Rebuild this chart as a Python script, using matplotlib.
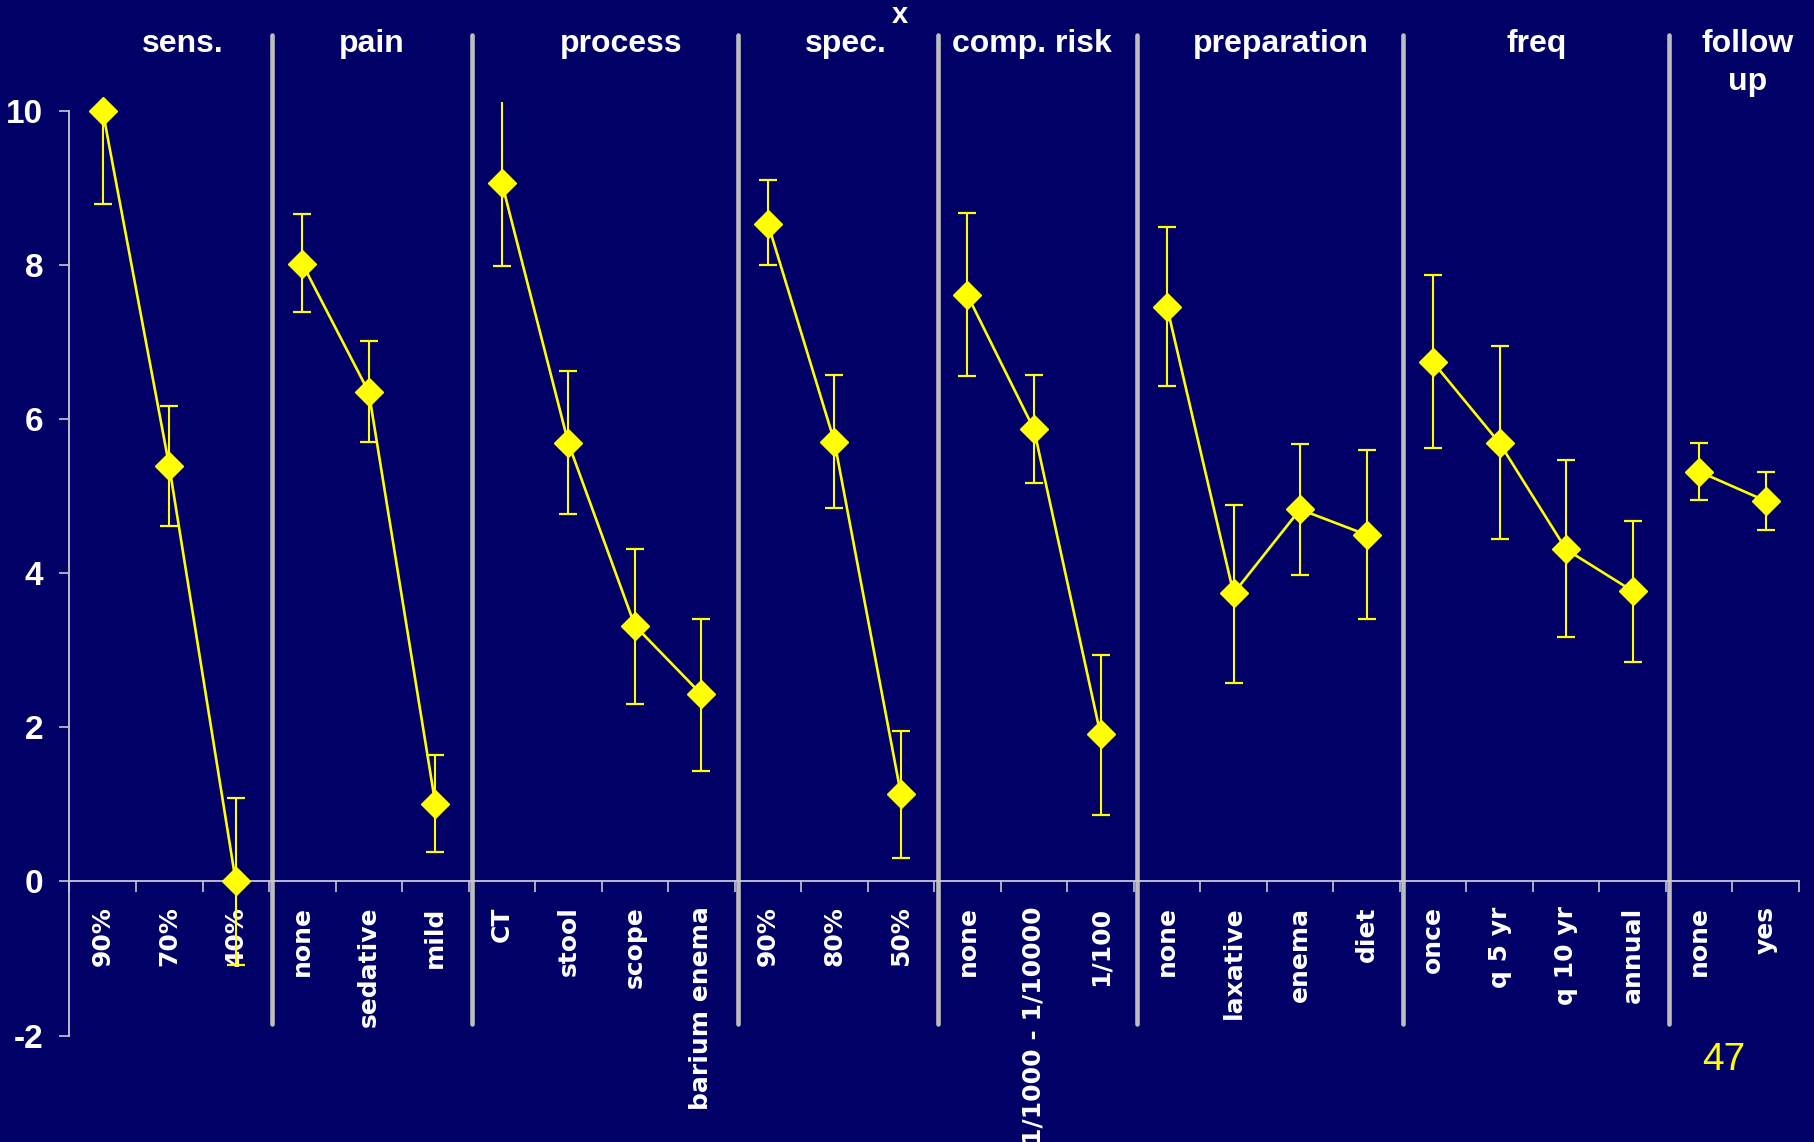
import numpy as np
import matplotlib
matplotlib.use('Agg')
import matplotlib.pyplot as plt

# attribute groups and their levels
groups = ['sens.', 'pain', 'process', 'spec.', 'comp. risk', 'preparation', 'freq', 'follow\nup']
levels = [
    ['90%', '70%', '40%'],
    ['none', 'sedative', 'mild'],
    ['CT', 'stool', 'scope', 'barium enema'],
    ['90%', '80%', '50%'],
    ['none', '1/1000 - 1/10000', '1/100'],
    ['none', 'laxative', 'enema', 'diet'],
    ['once', 'q 5 yr', 'q 10 yr', 'annual'],
    ['none', 'yes'],
]
means = [
    [10.0, 5.39, 0.0],
    [8.02, 6.35, 1.01],
    [9.07, 5.69, 3.32, 2.43],
    [8.54, 5.71, 1.13],
    [7.61, 5.87, 1.91],
    [7.46, 3.74, 4.83, 4.50],
    [6.74, 5.69, 4.31, 3.77],
    [5.32, 4.94],
]
lower = [
    [8.80, 4.61, -1.08],
    [7.39, 5.71, 0.38],
    [7.99, 4.77, 2.31, 1.44],
    [8.00, 4.85, 0.30],
    [6.56, 5.17, 0.86],
    [6.43, 2.58, 3.98, 3.41],
    [5.63, 4.44, 3.17, 2.85],
    [4.95, 4.56],
]
upper = [
    [11.20, 6.17, 1.08],
    [8.66, 7.01, 1.64],
    [10.15, 6.62, 4.32, 3.41],
    [9.10, 6.58, 1.95],
    [8.68, 6.58, 2.94],
    [8.50, 4.89, 5.68, 5.60],
    [7.87, 6.95, 5.47, 4.68],
    [5.69, 5.32],
]
title_x = [1.20, 4.04, 7.80, 11.17, 13.97, 17.71, 21.55, 24.73]

bg = '#000066'
yellow = '#ffff00'
axis_col = '#c8c8d8'

fig = plt.figure(figsize=(18.14, 11.42), dpi=100, facecolor=bg)
ax = fig.add_axes([0.0383, 0.0932, 0.9534, 0.8176])
ax.set_facecolor(bg)

labels = []
start = 0
for g, name in enumerate(groups):
    n = len(levels[g])
    xs = np.arange(start, start + n)
    m = np.array(means[g])
    lo = m - np.array(lower[g])
    hi = np.array(upper[g]) - m
    ax.errorbar(xs, m, yerr=[lo, hi], fmt='none', ecolor=yellow,
                elinewidth=1.5, capsize=6.5, capthick=1.6, zorder=3)
    ax.plot(xs, m, color=yellow, lw=1.9, marker='D', markersize=14.5,
            markerfacecolor=yellow, markeredgecolor=yellow, clip_on=False, zorder=4)
    labels += levels[g]
    if g > 0:
        ax.plot([start - 0.45, start - 0.45], [-1.85, 10.99], color='#bdbdbd',
                lw=3.3, solid_capstyle='round', clip_on=False, zorder=2)
    # group titles, one text per line so the first line sits on the common baseline
    for k, line in enumerate(name.split('\n')):
        ax.text(title_x[g], 10.77 - k * 0.50, line, ha='center', va='baseline',
                color='white', fontsize=23, fontweight='bold',
                family='Liberation Sans')
    start += n

ncat = len(labels)
ax.set_xlim(-0.5, ncat - 0.5)
ax.set_ylim(-2, 10.12)

for s in ['top', 'right']:
    ax.spines[s].set_visible(False)
ax.spines['left'].set_bounds(-2, 10)
ax.spines['left'].set_color(axis_col)
ax.spines['left'].set_linewidth(1.3)
ax.spines['bottom'].set_position(('data', 0))
ax.spines['bottom'].set_color(axis_col)
ax.spines['bottom'].set_linewidth(1.3)

ax.set_yticks(np.arange(-2, 11, 2))
ax.set_yticklabels([str(v) for v in range(-2, 11, 2)], color='white',
                   fontsize=24, fontweight='bold',
                   family=['Liberation Sans Narrow', 'Liberation Sans'])
ax.tick_params(axis='y', direction='out', length=7, width=1.2, color=axis_col, pad=12)

ax.set_xticks(np.arange(ncat))
ax.set_xticklabels(labels, rotation=90, color='white', fontsize=18,
                   fontweight='bold', family='DejaVu Sans', va='top')
ax.set_xticks(np.arange(-0.5, ncat, 1), minor=True)
ax.tick_params(axis='x', which='major', length=0, pad=18)
ax.tick_params(axis='x', which='minor', direction='out', length=8, width=1.2,
               color=axis_col)

ax.text(11.99, 11.14, 'x', ha='center', va='baseline', color='white',
        fontsize=21, fontweight='bold', family='Liberation Sans')

fig.text(0.950, 0.072, '47', ha='center', va='center', color=yellow,
         fontsize=28, family=['Liberation Sans Narrow', 'Liberation Sans'])

fig.savefig('out.png', dpi=100, facecolor=bg)
